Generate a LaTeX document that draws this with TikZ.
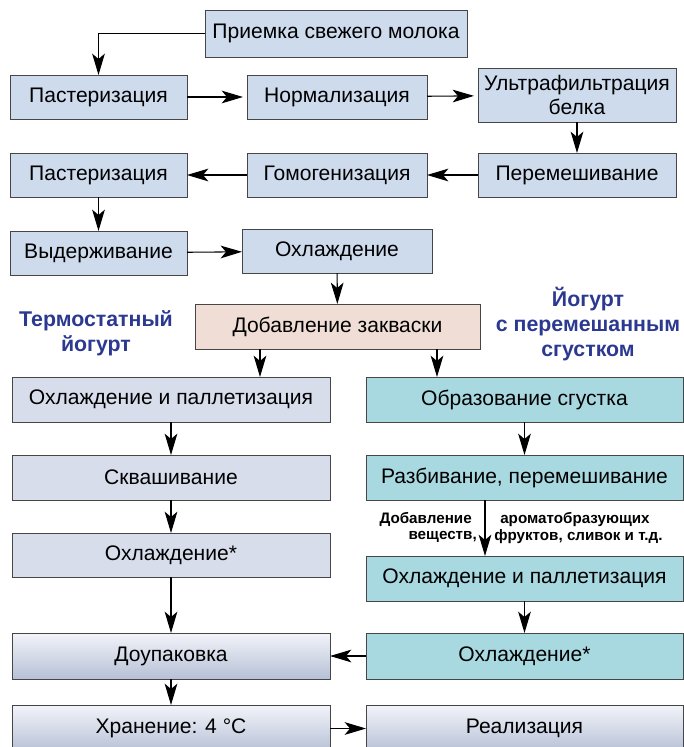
\documentclass[tikz,border=0pt]{standalone}
\usepackage{fontspec}
\setmainfont{Liberation Sans}
\usetikzlibrary{arrows.meta}
\definecolor{bxblue}{RGB}{206,219,237}
\definecolor{bxpink}{RGB}{239,221,214}
\definecolor{bxlav}{RGB}{216,221,236}
\definecolor{bxteal}{RGB}{168,216,224}
\definecolor{grtop}{RGB}{242,244,249}
\definecolor{grbot}{RGB}{182,192,214}
\definecolor{lblblue}{RGB}{43,57,144}
\definecolor{edge}{RGB}{70,70,70}
\tikzset{
  base/.style={draw=edge, line width=0.7pt, inner sep=0pt, outer sep=0pt, align=center,
    font=\fontsize{15.8}{18}\selectfont},
  bblue/.style={base, fill=bxblue},
  bpink/.style={base, fill=bxpink},
  blav/.style={base, fill=bxlav},
  bteal/.style={base, fill=bxteal},
  bgrad/.style={base, top color=grtop, bottom color=grbot},
  arr/.style={-{Stealth[length=16pt,width=9.5pt,inset=4pt]}, line width=0.8pt, black},
  blab/.style={text=lblblue, font=\bfseries\fontsize{16}{19}\selectfont, align=center},
  note/.style={font=\bfseries\fontsize{11.4}{13}\selectfont, inner sep=0pt}
}
% style, name, x1, y1, x2, y2, text  (pixel coordinates)
\newcommand\mkbox[7]{%
  \node[#1, minimum width={(#5-#3)*0.75pt}, minimum height={(#6-#4)*0.75pt}]
    (#2) at ({(#3+#5)/2},{(#4+#6)/2}) {#7};}
\begin{document}
\begin{tikzpicture}[x=0.75pt,y=-0.75pt]
\useasboundingbox (0,0) rectangle (684,747);
\clip (0,0) rectangle (684,747);
% top part
\mkbox{bblue}{a0}{205}{10}{467}{57}{Приемка свежего молока}
\mkbox{bblue}{p1}{10}{75}{187}{119}{Пастеризация}
\mkbox{bblue}{n}{247}{75}{427}{119}{Нормализация}
\mkbox{bblue}{u}{478}{68}{676}{122}{Ультрафильтрация\\белка}
\mkbox{bblue}{m}{478}{153}{676}{197}{Перемешивание}
\mkbox{bblue}{g}{247}{153}{427}{197}{Гомогенизация}
\mkbox{bblue}{p2}{10}{153}{187}{197}{Пастеризация}
\mkbox{bblue}{v}{10}{231}{187}{275}{Выдерживание}
\mkbox{bblue}{o}{242}{229}{432}{273}{Охлаждение}
\mkbox{bpink}{d}{195}{304}{480}{349}{Добавление закваски}
\node[blab] (lt) at (96,333) {Термостатный\\йогурт};
\node[blab] (rt) at (588,324) {Йогурт\\с перемешанным\\сгустком};
% left column
\mkbox{blav}{l1}{12}{377}{330}{422}{Охлаждение и паллетизация}
\mkbox{blav}{l2}{12}{455}{330}{500}{Сквашивание}
\mkbox{blav}{l3}{12}{533}{330}{577}{Охлаждение*}
\mkbox{bgrad}{l4}{12}{633}{330}{679}{Доупаковка}
\mkbox{bgrad}{l5}{12}{705}{330}{752}{Хранение: 4 °C}
% right column
\mkbox{bteal}{r1}{366}{377}{683}{422}{Образование сгустка}
\mkbox{bteal}{r2}{366}{455}{683}{500}{Разбивание, перемешивание}
\mkbox{bteal}{r3}{366}{556}{683}{601}{Охлаждение и паллетизация}
\mkbox{bteal}{r4}{366}{633}{683}{679}{Охлаждение*}
\mkbox{bgrad}{r5}{366}{705}{683}{752}{Реализация}
% notes
\node[note, anchor=east] (n1) at (472,519) {Добавление};
\node[note, anchor=east] (n2) at (477,537) {веществ,};
\node[note, anchor=west] (n3) at (500,519) {ароматобразующих};
\node[note, anchor=west] (n4) at (494,537) {фруктов, сливок и т.д.};
% helper coordinates
\coordinate (xa) at (260,0);
\coordinate (xb) at (437,0);
\coordinate (xc) at (485,0);
% connectors
\draw[arr] (a0.west) -| (p1.north);
\draw[arr, shorten >=3pt] (p1) -- (n);
\draw[arr, shorten >=3pt] (n) -- (u);
\draw[arr] (u) -- (m);
\draw[arr] (m) -- (g);
\draw[arr] (g) -- (p2);
\draw[arr] (p2) -- (v);
\draw[arr] (v) -- (o);
\draw[arr] (o) -- (d);
\draw[arr] (d.south -| xa) -- (l1.north -| xa);
\draw[arr] (d.south -| xb) -- (r1.north -| xb);
\draw[arr] (l1) -- (l2);
\draw[arr] (l2) -- (l3);
\draw[arr] (l3) -- (l4);
\draw[arr] (l4) -- (l5);
\draw[arr] (r1) -- (r2);
\draw[arr] (r2.south -| xc) -- (r3.north -| xc);
\draw[arr] (r3) -- (r4);
\draw[arr] (r4) -- (l4);
\draw[arr] (l5) -- (r5);
\end{tikzpicture}
\end{document}
